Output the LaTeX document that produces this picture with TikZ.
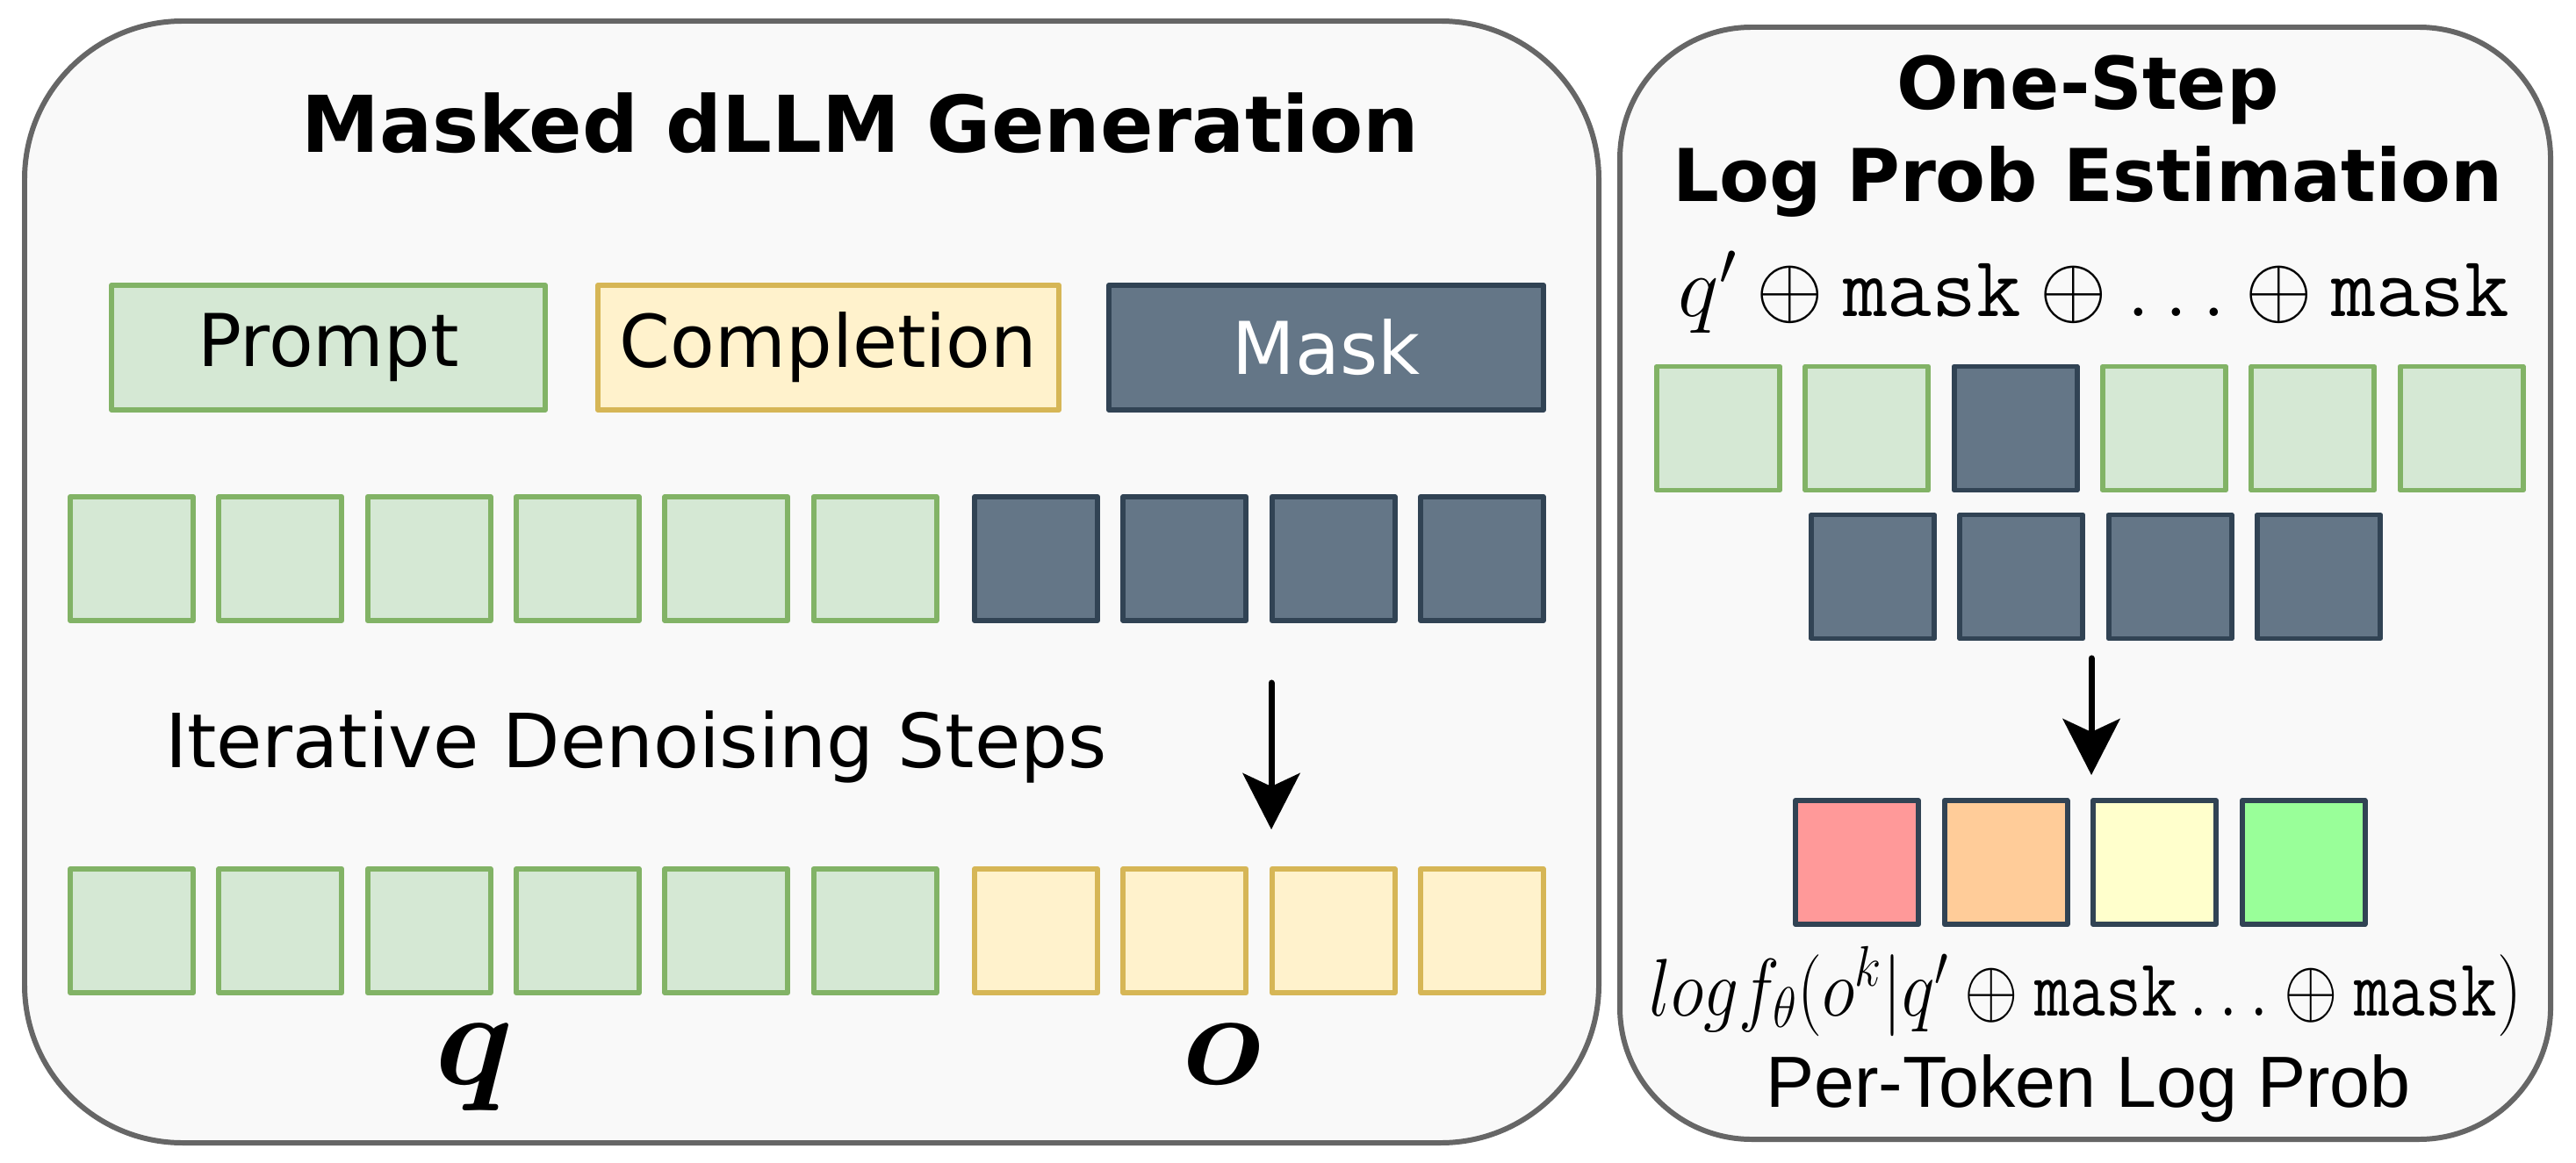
\RequirePackage{fix-cm}
\documentclass[tikz,border=0pt]{standalone}
\usepackage{amsmath,amssymb}
\usepackage{graphicx}
\usepackage{fontspec}
\setmainfont{DejaVu Sans}
\newfontfamily\helvfont{Liberation Sans}
\usepackage{xcolor}
\usepackage{tikz}
\usetikzlibrary{arrows.meta,positioning}
\definecolor{panelfill}{HTML}{F9F9F9}
\definecolor{panelline}{HTML}{666666}
\definecolor{promptfill}{HTML}{D5E8D4}
\definecolor{promptline}{HTML}{82B366}
\definecolor{compfill}{HTML}{FFF2CC}
\definecolor{compline}{HTML}{D6B656}
\definecolor{maskfill}{HTML}{647687}
\definecolor{maskline}{HTML}{314354}
\definecolor{lpred}{HTML}{FF9999}
\definecolor{lporange}{HTML}{FFCC99}
\definecolor{lpyellow}{HTML}{FFFFCC}
\definecolor{lpgreen}{HTML}{99FF99}
\tikzset{
    every picture/.style={line cap=round,line join=round},
    panel/.style={draw=panelline,fill=panelfill,line width=1.7pt,inner sep=0pt},
    tokcell/.style={line width=1.7pt,minimum width=14mm,minimum height=14.1mm,
      inner sep=0pt,outer sep=0pt},
    promptcell/.style={tokcell,draw=promptline,fill=promptfill},
    compcell/.style={tokcell,draw=compline,fill=compfill},
    maskcell/.style={tokcell,draw=maskline,fill=maskfill},
    scorecell/.style={tokcell,draw=maskline,fill=#1},
    legendbox/.style={tokcell,minimum height=14.2mm,
      font=\fontsize{23.6}{28}\selectfont},
    paneltitle/.style={font=\bfseries\fontsize{#1}{29.9}\selectfont,
      align=center,inner sep=0pt,anchor=base},
    plaintext/.style={font=\fontsize{#1}{30}\selectfont,inner sep=0pt,anchor=base},
    helvtext/.style={font=\helvfont\fontsize{#1}{30}\selectfont,inner sep=0pt,anchor=base},
    flowarrow/.style={-{Stealth[length=6.4mm,width=6.5mm,inset=1.5mm]},
      draw=black,line width=2pt}
}
\begin{document}
\begin{tikzpicture}
  \fill[white] (0,0) rectangle (29.34,13.24);
  \useasboundingbox (0,0) rectangle (29.34,13.24);
  \node[panel,rounded corners=18mm,minimum width=179.3mm,minimum height=127.8mm]
    (genpanel) at (9.245,6.61) {};
  \node[panel,rounded corners=15mm,minimum width=106mm,minimum height=126.7mm]
    (estpanel) at (23.75,6.595) {};
  \node[paneltitle=25.4] (gentitle) at (9.80,11.50) {Masked dLLM Generation};
  \node[paneltitle=23.6] (esttitle) at (23.78,10.94) {One-Step\\Log Prob Estimation};
  \node[legendbox,draw=promptline,fill=promptfill,minimum width=49.4mm]
    (legprompt) at (3.74,9.28) {Prompt};
  \node[legendbox,draw=compline,fill=compfill,minimum width=52.5mm,
    right=6mm of legprompt] (legcomp) {Completion};
  \node[legendbox,draw=maskline,fill=maskfill,text=white,minimum width=49.5mm,
    right=5.7mm of legcomp] (legmask) {Mask};
  \foreach \i in {1,...,6} {
    \node[promptcell] (tp\i) at ({1.50+1.693*(\i-1)},6.875) {};
    \node[promptcell] (bp\i) at ({1.50+1.693*(\i-1)},2.635) {};
  }
  \foreach \i in {1,...,4} {
    \node[maskcell] (tm\i) at ({11.80+1.693*(\i-1)},6.875) {};
    \node[compcell] (bc\i) at ({11.80+1.693*(\i-1)},2.635) {};
  }
  \node[plaintext=24.2] (denoise) at (7.245,4.50) {Iterative Denoising Steps};
  \coordinate (genA) at (14.48,5.46);
  \coordinate (genB) at (14.48,3.79);
  \draw[flowarrow] (genA)--(genB);
  \node[plaintext=44] (qlab) at (5.40,0.89) {$\boldsymbol{q}$};
  \node[plaintext=44] (olab) at (13.92,0.89) {$\boldsymbol{o}$};
  \node[plaintext=28] (qmask) at (23.85,9.64)
    {$q' \oplus \mathtt{mask} \oplus \ldots \oplus \mathtt{mask}$};
  \foreach \i/\sty in {1/promptcell,2/promptcell,3/maskcell,4/promptcell,5/promptcell,6/promptcell}
    \node[\sty] (qp\i) at ({19.57+1.693*(\i-1)},8.36) {};
  \foreach \i in {1,...,4}
    \node[maskcell] (rm\i) at ({21.33+1.693*(\i-1)},6.67) {};
  \coordinate (estA) at (23.82,5.74);
  \coordinate (estB) at (23.82,4.41);
  \draw[flowarrow] (estA)--(estB);
  \foreach \i/\c in {1/lpred,2/lporange,3/lpyellow,4/lpgreen}
    \node[scorecell=\c] (lp\i) at ({21.15+1.695*(\i-1)},3.415) {};
  \node[plaintext=26.5] (logf) at (23.755,1.67)
    {\scalebox{0.85}[1]{$log f_\theta(o^k|q' \oplus \mathtt{mask} \ldots \oplus \mathtt{mask})$}};
  \node[helvtext=23.5] (pertok) at (23.785,0.63) {Per-Token Log Prob};
\end{tikzpicture}
\end{document}
